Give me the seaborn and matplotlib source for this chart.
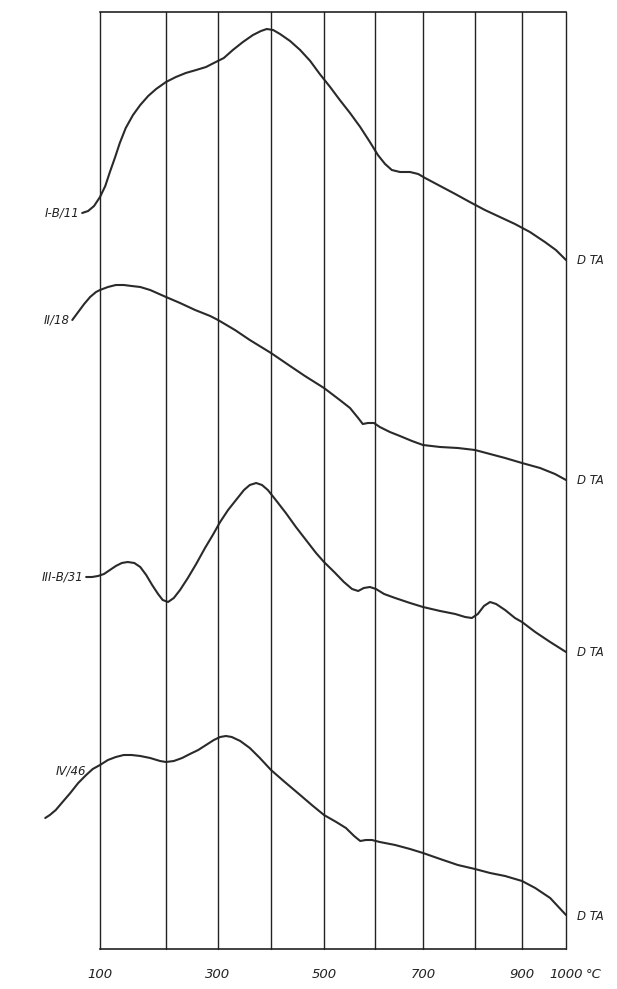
import numpy as np
import pandas as pd
import matplotlib.pyplot as plt
import seaborn as sns

#%% data: DTA curves (temperature in deg C, deflection in arbitrary units, down = larger)
grid_temps = [0, 100, 200, 300, 400, 500, 600, 700, 800, 900, 1000]
# the hand drawn temperature axis is not linear; position of each 100 deg line
grid_pos = [34, 100, 166, 218, 271, 324, 375, 423, 475, 522, 566]

t1 = [73, 82, 91, 100, 108, 115, 123, 130, 139, 150, 161, 173, 185, 200, 219, 238, 258, 277,
      292, 311, 328, 347, 366, 381, 392, 404, 417, 436, 455, 474, 492, 512, 531, 551, 571,
      590, 606, 621, 635, 652, 673, 690, 704, 733, 762, 790, 821, 853, 885, 918, 952, 977, 1000]
d1 = [213, 211, 206, 197, 186, 172, 157, 143, 128, 115, 105, 96, 89, 82, 77, 73, 70, 67,
      63, 58, 50, 42, 35, 31, 29, 30, 34, 41, 50, 61, 74, 87, 100, 113, 127,
      142, 155, 164, 170, 172, 172, 174, 178, 186, 194, 202, 210, 217, 224, 232, 242, 250, 260]

t2 = [58, 67, 76, 85, 94, 100, 112, 124, 136, 148, 161, 176, 200, 227, 256, 285, 300, 332,
      360, 400, 436, 464, 500, 531, 551, 567, 576, 586, 598, 610, 631, 652, 677, 700, 733,
      767, 800, 832, 864, 900, 941, 975, 1000]
d2 = [320, 312, 304, 297, 292, 290, 287, 285, 285, 286, 287, 290, 297, 303, 310, 316, 320, 330,
      340, 353, 366, 376, 388, 400, 408, 418, 424, 423, 423, 427, 432, 436, 441, 445, 447,
      448, 450, 454, 458, 463, 468, 474, 480]

t3 = [79, 88, 97, 106, 115, 124, 133, 142, 152, 161, 170, 179, 188, 195, 204, 215, 227, 242,
      258, 275, 290, 304, 319, 334, 349, 360, 372, 383, 394, 409, 428, 447, 466, 485, 500,
      520, 539, 555, 567, 578, 590, 602, 619, 642, 673, 700, 733, 762, 781, 794, 806, 819,
      832, 845, 864, 885, 900, 930, 964, 1000]
d3 = [577, 577, 576, 574, 570, 566, 563, 562, 563, 567, 575, 585, 594, 600, 602, 598, 590, 578,
      564, 548, 535, 522, 510, 500, 490, 485, 483, 485, 490, 500, 513, 527, 540, 553, 562,
      572, 582, 589, 591, 588, 587, 589, 594, 598, 603, 607, 611, 614, 617, 618, 614, 606,
      602, 604, 610, 618, 622, 632, 642, 652]

t4 = [17, 24, 33, 42, 55, 67, 79, 89, 100, 112, 124, 136, 148, 161, 176, 191, 200, 215,
      231, 246, 262, 277, 292, 304, 315, 326, 342, 360, 379, 400, 426, 455, 477, 500, 524,
      543, 559, 571, 582, 594, 610, 642, 673, 700, 733, 767, 800, 832, 864, 900, 930, 964, 1000]
d4 = [818, 815, 810, 803, 793, 783, 775, 769, 765, 760, 757, 755, 755, 756, 758, 761, 762, 761,
      758, 754, 750, 745, 740, 737, 736, 737, 741, 748, 758, 770, 782, 795, 805, 815, 822,
      828, 836, 841, 840, 840, 842, 845, 849, 853, 859, 865, 869, 873, 876, 881, 888, 898, 915]

names = ['I-B/11', 'II/18', 'III-B/31', 'IV/46']
tick_temps = [100, 200, 300, 400, 500, 600, 700, 800, 900, 1000]
tick_labels = ['100', '', '300', '', '500', '', '700', '', '900', '1000']

#%%
frames = []
for name, t, d in zip(names, [t1, t2, t3, t4], [d1, d2, d3, d4]):
    frames.append(pd.DataFrame({'temp': t, 'dta': d, 'sample': name}))
df = pd.concat(frames, ignore_index=True)


def fwd(t):
    return np.interp(t, grid_temps, grid_pos)


def inv(p):
    return np.interp(p, grid_pos, grid_temps)


sns.set_style('white')
plt.rcParams['font.family'] = ['DejaVu Sans']

fig = plt.figure(figsize=(6.17, 9.89), dpi=100)
ax = fig.add_axes([100 / 617, 1 - 949 / 989, 466 / 617, 937 / 989])
ax.set_xscale('function', functions=(fwd, inv))

sns.lineplot(data=df, x='temp', y='dta', units='sample', estimator=None,
             sort=False, color='#2a2a2a', lw=1.5, ax=ax, legend=False)
for line in ax.lines:
    line.set_clip_on(False)
    line.set_solid_joinstyle('round')

ax.set_xlim(100, 1000)
ax.set_ylim(949, 12)
ax.set_xticks(tick_temps)
ax.set_xticklabels(tick_labels, fontstyle='italic', fontsize=9.5, color='#222')
ax.set_yticks([])
ax.set_xlabel('')
ax.set_ylabel('')
ax.tick_params(axis='x', direction='out', length=8, width=1, color='#222', pad=6)
for t in tick_temps:
    ax.axvline(t, color='#222', lw=1, clip_on=False)
for s in ['top', 'bottom']:
    ax.spines[s].set_color('#222')
    ax.spines[s].set_linewidth(1.2)
ax.spines['left'].set_visible(False)
ax.spines['right'].set_visible(False)

# curve names on the left, DTA on the right
for name, t, d in zip(names[:3], [t1, t2, t3], [d1, d2, d3]):
    ax.annotate(name, xy=(t[0], d[0]), xytext=(-2, 0), textcoords='offset points',
                ha='right', va='center', fontsize=8.5, fontstyle='italic', color='#222',
                annotation_clip=False)
ax.annotate(names[3], xy=(100, 765), xytext=(-10, -4), textcoords='offset points',
            ha='right', va='center', fontsize=8.5, fontstyle='italic', color='#222',
            annotation_clip=False)
for d, dy in zip([d1[-1], d2[-1], d3[-1], d4[-1]], [0, 0, 0, -1]):
    ax.annotate('D TA', xy=(1000, d), xytext=(8, dy), textcoords='offset points',
                ha='left', va='center', fontsize=8.5, fontstyle='italic', color='#222',
                annotation_clip=False)
fig.text(586 / 617, 1 - 975 / 989, '°C', ha='left', va='center', fontsize=9.5,
         fontstyle='italic', color='#222')

plt.savefig('out.png', dpi=100)
